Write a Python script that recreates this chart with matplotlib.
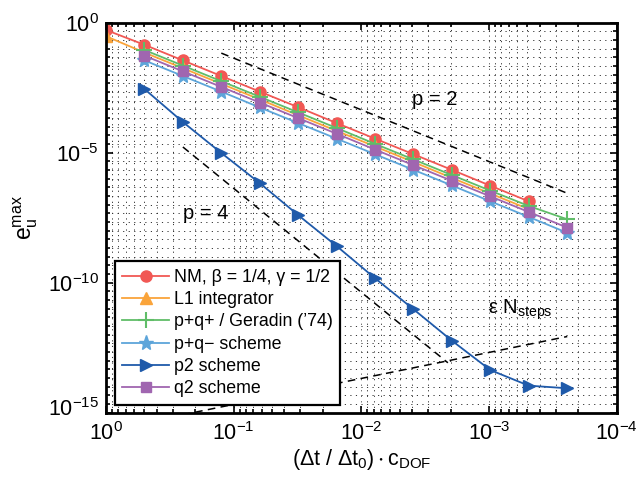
import numpy as np
import matplotlib
matplotlib.use("Agg")
import matplotlib.pyplot as plt
import matplotlib.transforms as mtrans
from matplotlib.ticker import FixedLocator, NullFormatter

plt.rcParams['font.family'] = ['Liberation Sans', 'DejaVu Sans']
plt.rcParams['mathtext.fontset'] = 'custom'
plt.rcParams['mathtext.rm'] = 'Liberation Sans'
plt.rcParams['mathtext.it'] = 'Liberation Sans:italic'
plt.rcParams['mathtext.default'] = 'regular'

# step sizes (Δt/Δt0)·c_DOF
dt_full = [1, 1/2, 1/4, 1/8, 1/16, 1/32, 1/64, 1/128, 1/256, 1/512, 1/1024, 1/2048, 1/4096]
dt_nm = dt_full[:12]
dt_rest = dt_full[1:]

# log10 of max error
nm_log = [-0.28, -0.85, -1.45, -2.05, -2.65, -3.25, -3.86, -4.46, -5.06, -5.66, -6.27, -6.87]
l1_log = [-0.52, -1.15, -1.75, -2.35, -2.95, -3.56, -4.16, -4.76, -5.36, -5.97, -6.57, -7.17]
pqp_log = [-1.05, -1.65, -2.25, -2.85, -3.45, -4.05, -4.66, -5.26, -5.86, -6.46, -7.05, -7.56]
pqm_log = [-1.45, -2.05, -2.65, -3.26, -3.86, -4.46, -5.06, -5.66, -6.26, -6.87, -7.47, -8.08]
p2_log = [-2.55, -3.82, -5.01, -6.17, -7.40, -8.59, -9.83, -11.02, -12.23, -13.36, -13.96, -14.06]
q2_log = [-1.27, -1.87, -2.47, -3.07, -3.67, -4.27, -4.88, -5.48, -6.08, -6.68, -7.28, -7.88]

# reference lines (endpoints)
ref2_x = [0.125, 2.44e-4]
ref2_y = [10**-1.17, 10**-6.56]
ref4_x = [0.25, 2.1e-3]
ref4_y = [10**-4.78, 10**-13.08]
refe_x = [1.0, 2.44e-4]
refe_y = [10**-15.68, 10**-12.07]

labels = ['NM, β = 1/4, γ = 1/2', 'L1 integrator', 'p+q+ / Geradin (’74)',
          'p+q− scheme', 'p2 scheme', 'q2 scheme']
colors = ['#F15854', '#FAA43A', '#60BD68', '#5DA5DA', '#1F5AAA', '#A066B0']

fig = plt.figure(figsize=(6.37, 4.78), dpi=100)
ax = fig.add_axes([106/637, 1-412.7/478, (616.7-106)/637, (412.7-22.7)/478])
ax.set_xscale('log')
ax.set_yscale('log')

lw = 1.3
ax.plot(dt_nm, 10**np.array(nm_log), '-o', color=colors[0], lw=lw, ms=8, label=labels[0])
ax.plot(dt_nm, 10**np.array(l1_log), '-^', color=colors[1], lw=lw, ms=8.5, label=labels[1])
ax.plot(dt_rest, 10**np.array(pqp_log), '-+', color=colors[2], lw=lw, ms=11, mew=1.5, label=labels[2])
ax.plot(dt_rest, 10**np.array(pqm_log), '-*', color=colors[3], lw=lw, ms=11, label=labels[3])
ax.plot(dt_rest, 10**np.array(p2_log), '->', color=colors[4], lw=lw, ms=8.5, label=labels[4])
ax.plot(dt_rest, 10**np.array(q2_log), '-s', color=colors[5], lw=lw, ms=7, label=labels[5])

dash = (0, (5, 3.5))
ax.plot(ref2_x, ref2_y, color='k', lw=1.1, ls=dash)
ax.plot(ref4_x, ref4_y, color='k', lw=1.1, ls=dash)
ax.plot(refe_x, refe_y, color='k', lw=1.1, ls=dash)

ax.text(10**-2.40, 10**-2.97, 'p = 2', fontsize=14.5, ha='left', va='center')
ax.text(10**-0.60, 10**-7.32, 'p = 4', fontsize=14.5, ha='left', va='center')
ax.text(10**-2.99, 10**-11.05, r'$\epsilon\ N_{steps}$', fontsize=14.5, ha='left', va='center')

ax.set_xlim(1, 1e-4)
ax.set_ylim(1e-15, 1)
ax.xaxis.set_major_locator(FixedLocator([1, 1e-1, 1e-2, 1e-3, 1e-4]))
ax.yaxis.set_major_locator(FixedLocator([1e-15, 1e-10, 1e-5, 1]))
xminor = [m * 10.0**e for e in range(-4, 0) for m in range(2, 10)]
ax.xaxis.set_minor_locator(FixedLocator(xminor))
yminor = [10.0**(j/3) for j in range(-45, 1) if j % 15 != 0]
ax.yaxis.set_minor_locator(FixedLocator(yminor))
ax.xaxis.set_minor_formatter(NullFormatter())
ax.yaxis.set_minor_formatter(NullFormatter())

gls = (0, (1.2, 4.5))
ax.grid(True, which='major', color='#555555', ls=gls, lw=0.7)
ax.grid(True, which='minor', color='#333333', ls=gls, lw=0.7)
ax.set_axisbelow(True)

ax.tick_params(which='both', direction='in', top=True, right=True, labelsize=15.5, width=1.2)
ax.tick_params(which='major', length=5)
ax.tick_params(axis='x', which='major', pad=7)
ax.tick_params(axis='y', which='major', pad=5)
ax.tick_params(which='minor', length=3)
for s in ax.spines.values():
    s.set_linewidth(2)

ax.set_xlabel(r'$(\Delta t\ /\ \Delta t_0)\cdot c_{DOF}$', fontsize=15.5, labelpad=1)
ax.set_ylabel(r'$e_u^{max}$', fontsize=16.5, labelpad=6)

leg = ax.legend(loc='lower left', bbox_to_anchor=(0.0176, 0.02), borderaxespad=0,
                fontsize=12.8, fancybox=False, framealpha=1, edgecolor='k',
                handlelength=2.6, handletextpad=0.3, labelspacing=0.3, borderpad=0.42)
leg.get_frame().set_linewidth(1.6)

# lift the lowest y tick label a little (as in the reference) to keep it clear of 10^0
fig.canvas.draw()
for t in ax.yaxis.get_majorticklabels():
    if abs(t.get_position()[1] - 1e-15) < 1e-20:
        t.set_transform(t.get_transform() + mtrans.ScaledTranslation(0, 6/100, fig.dpi_scale_trans))

fig.savefig('out.png', dpi=100)
